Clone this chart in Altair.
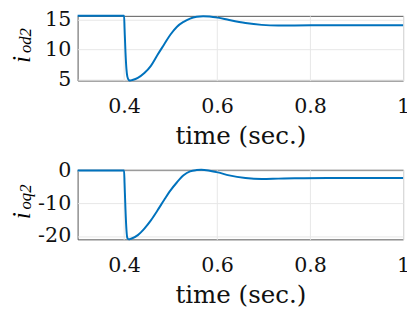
import altair as alt
import pandas as pd

# ---- data ----
t_d = [0.30, 0.400, 0.401, 0.403, 0.405, 0.407, 0.410, 0.413, 0.418, 0.4295, 0.4436, 0.4576,
       0.4717, 0.4857, 0.4998, 0.5138, 0.5279, 0.5419, 0.556, 0.570, 0.584, 0.6016, 0.626,
       0.661, 0.696, 0.7316, 0.7667, 0.837, 0.92, 1.0]
i_od2 = [15.6, 15.6, 13.5, 9.5, 6.8, 5.5, 4.95, 4.85, 4.95, 5.3, 6.1, 7.3,
         9.1, 10.8, 12.5, 13.8, 14.6, 15.15, 15.45, 15.55, 15.5, 15.3, 14.9,
         14.4, 14.1, 14.0, 14.0, 14.05, 14.05, 14.05]

t_q = [0.30, 0.400, 0.401, 0.403, 0.405, 0.407, 0.410, 0.415, 0.4295, 0.4436, 0.4576, 0.4717,
       0.4857, 0.4998, 0.5138, 0.5279, 0.5419, 0.556, 0.566, 0.584, 0.6016, 0.626, 0.661,
       0.696, 0.7316, 0.7667, 0.837, 0.92, 1.0]
i_oq2 = [0.0, 0.0, -4.0, -12.0, -18.0, -20.6, -21.0, -20.8, -19.7, -17.7, -15.2, -12.2,
         -9.1, -6.1, -3.6, -1.5, -0.3, 0.1, 0.2, -0.1, -0.6, -1.5, -2.3,
         -2.6, -2.5, -2.4, -2.3, -2.3, -2.3]

x_domain = [0.3, 1.0]
x_ticks = [0.4, 0.6, 0.8, 1.0]
d_domain = [4.85, 15.6]
d_ticks = [5, 10, 15]
q_domain = [-21.0, 0.2]
q_ticks = [-20, -10, 0]
x_title = "time (sec.)"

FONT = "DejaVu Serif"
LINE = "#0072BD"
W = 332


def panel(t, v, dom, ticks, main, sub, h, xi, yi, xs, ys):
    df = pd.DataFrame({"t": t, "v": v})
    x = alt.X("t:Q", scale=alt.Scale(domain=x_domain, nice=False, zero=False),
              axis=alt.Axis(values=x_ticks, format="~g", title=x_title,
                            labelBaseline="alphabetic", labelPadding=33, labelFlush=False,
                            titleBaseline="alphabetic", titleY=64))
    y = alt.Y("v:Q", scale=alt.Scale(domain=dom, nice=False, zero=False),
              axis=alt.Axis(values=ticks, title=None, labelPadding=7,
                            labelExpr="datum.value < 0 ? '-' + (-datum.value) : '' + datum.value"))
    line = alt.Chart(df).mark_line(color=LINE, strokeWidth=2, interpolate="monotone").encode(x=x, y=y)
    one = pd.DataFrame({"k": [0]})
    t_main = alt.Chart(one).mark_text(
        text=main, angle=270, align="left", baseline="alphabetic",
        font="Liberation Serif", fontStyle="italic", fontSize=26, color="black"
    ).encode(x=alt.value(xi), y=alt.value(yi))
    t_sub = alt.Chart(one).mark_text(
        text=sub, angle=270, align="left", baseline="alphabetic",
        font="Liberation Serif", fontStyle="italic", fontSize=17, color="black"
    ).encode(x=alt.value(xs), y=alt.value(ys))
    return alt.layer(line, t_main, t_sub).properties(width=W, height=h)


top = panel(t_d, i_od2, d_domain, d_ticks, "i", "od2", 66, -49, 48, -47.5, 38)
bot = panel(t_q, i_oq2, q_domain, q_ticks, "i", "oq2", 71, -49, 50.5, -47.5, 40.5)

chart = alt.vconcat(top, bot, spacing=91, bounds="flush").properties(
    autosize=alt.AutoSizeParams(type="none"),
    padding={"left": 71, "top": 5, "right": 4, "bottom": 295},
).configure_view(
    stroke="#555555", strokeWidth=1
).configure_axis(
    labelFont=FONT, labelFontSize=21, labelColor="#111111",
    titleFont=FONT, titleFontSize=25, titleFontWeight="normal", titleColor="#111111",
    ticks=False, tickSize=0, domain=False,
    grid=True, gridColor="#e6e6e6", gridWidth=1,
)

chart.save("out.html", embed_options={"renderer": "svg", "actions": False})
